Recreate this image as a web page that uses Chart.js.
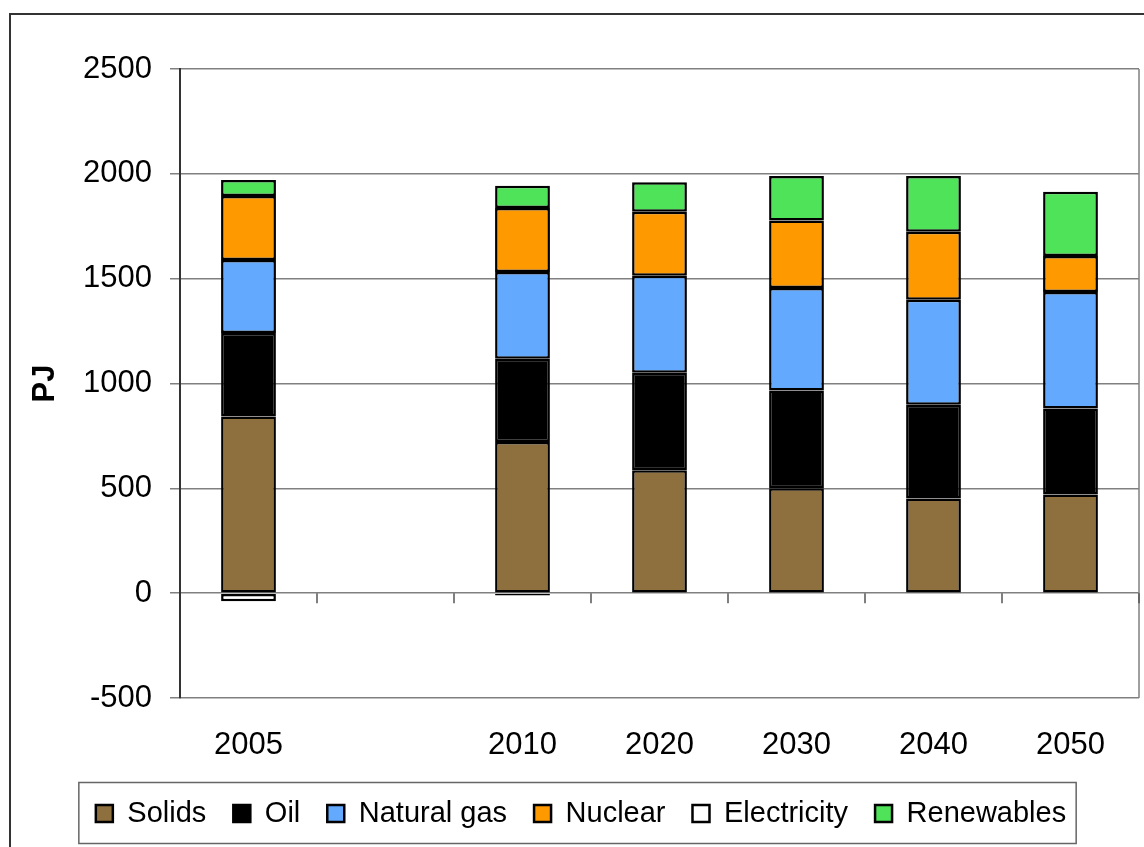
<!DOCTYPE html>
<html>
<head>
<meta charset="utf-8">
<script src="https://cdn.jsdelivr.net/npm/chart.js@4.4.1/dist/chart.umd.min.js"></script>
<style>
  body { margin: 0; background: #fff; }
  #wrap { position: relative; width: 1144px; height: 847px; overflow: hidden; }
  #outline { position: absolute; left: 9px; top: 13px; width: 1160px; height: 860px;
             border: 2px solid #333; box-sizing: border-box; }
  #myChart { position: absolute; left: 0; top: 0; }
</style>
</head>
<body>
<div id="wrap">
  <div id="outline"></div>
  <canvas id="myChart" width="1144" height="847"></canvas>
</div>
<script>
// categories (second slot is an empty gap on the axis)
var years = ['2005', '', '2010', '2020', '2030', '2040', '2050'];

// series values, PJ
var solids      = [843, null, 721, 586, 500, 452, 471];
var oil         = [398, null, 397, 465, 467, 447, 410];
var naturalGas  = [348, null, 414, 463, 489, 500, 556];
var nuclear     = [305, null, 305, 305, 322, 325, 171];
var electricity = [-38, null, -11, null, null, null, null];
var renewables  = [76,  null, 106, 141, 212, 266, 306];

// y tick range
var yMin = -500, yMax = 2500, yStep = 500;

var FONT = "'Liberation Sans', Arial, sans-serif";

function series(label, values, color) {
    return {
        label: label,
        data: values,
        backgroundColor: color,
        borderColor: '#000',
        borderWidth: 2.5,
        borderSkipped: false,
        barPercentage: 0.4,
        categoryPercentage: 1.0
    };
}

// frame, category ticks on the zero line, legend box
var extras = {
    id: 'extras',
    afterDatasetsDraw: function(chart) {
        var c = chart.ctx, a = chart.chartArea;
        var xs = chart.scales.x, ys = chart.scales.y;
        c.save();
        c.strokeStyle = '#808080';
        c.lineWidth = 1.5;
        c.beginPath();
        c.moveTo(a.right, a.top);
        c.lineTo(a.right, a.bottom);
        c.stroke();
        var y0 = ys.getPixelForValue(0);
        var step = (xs.right - xs.left) / years.length;
        c.strokeStyle = '#555';
        for (var i = 1; i <= years.length; i++) {
            var x = Math.round(xs.left + i * step);
            c.beginPath();
            c.moveTo(x, y0);
            c.lineTo(x, y0 + 10);
            c.stroke();
        }
        c.restore();
    },
    afterDraw: function(chart) {
        var hb = chart.legend.legendHitBoxes;
        if (!hb || !hb.length) return;
        var c = chart.ctx;
        var first = hb[0], last = hb[hb.length - 1];
        var cy = first.top + first.height / 2;
        c.save();
        c.strokeStyle = '#666';
        c.lineWidth = 1.5;
        c.strokeRect(first.left - 17, cy - 31, (last.left + last.width + 10) - (first.left - 17), 61);
        c.restore();
    }
};

var ctx = document.getElementById('myChart').getContext('2d');
var chart = new Chart(ctx, {
    type: 'bar',
    data: {
        labels: years,
        datasets: [
            series('Solids', solids, '#8E6F3E'),
            series('Oil', oil, '#000000'),
            series('Natural gas', naturalGas, '#63AAFF'),
            series('Nuclear', nuclear, '#FF9900'),
            series('Electricity', electricity, '#FFFFFF'),
            series('Renewables', renewables, '#4FE35A')
        ]
    },
    options: {
        responsive: false,
        animation: false,
        layout: { padding: { left: 23, right: 5, top: 69, bottom: 9 } },
        plugins: {
            tooltip: { enabled: false },
            legend: {
                position: 'bottom',
                labels: {
                    color: '#000',
                    font: { family: FONT, size: 29 },
                    boxWidth: 17,
                    boxHeight: 17,
                    padding: 27
                }
            }
        },
        scales: {
            x: {
                stacked: true,
                grid: { display: false, drawTicks: false },
                border: { display: false },
                ticks: { color: '#000', font: { family: FONT, size: 31 }, padding: 29, maxRotation: 0, autoSkip: false },
                afterFit: function(s) { s.height = 74; }
            },
            y: {
                stacked: true,
                min: yMin,
                max: yMax,
                ticks: {
                    stepSize: yStep,
                    color: '#000',
                    font: { family: FONT, size: 31 },
                    padding: 18,
                    callback: function(v) { return String(v); }
                },
                grid: { color: '#808080', lineWidth: 1.5, tickLength: 10, tickColor: '#808080' },
                border: { color: '#333', width: 2 },
                title: {
                    display: true,
                    text: 'PJ',
                    color: '#000',
                    font: { family: FONT, size: 31, weight: 'bold' },
                    padding: { top: 4, bottom: 0 }
                },
                afterFit: function(s) { s.width = 157; }
            }
        }
    },
    plugins: [extras]
});
</script>
</body>
</html>
